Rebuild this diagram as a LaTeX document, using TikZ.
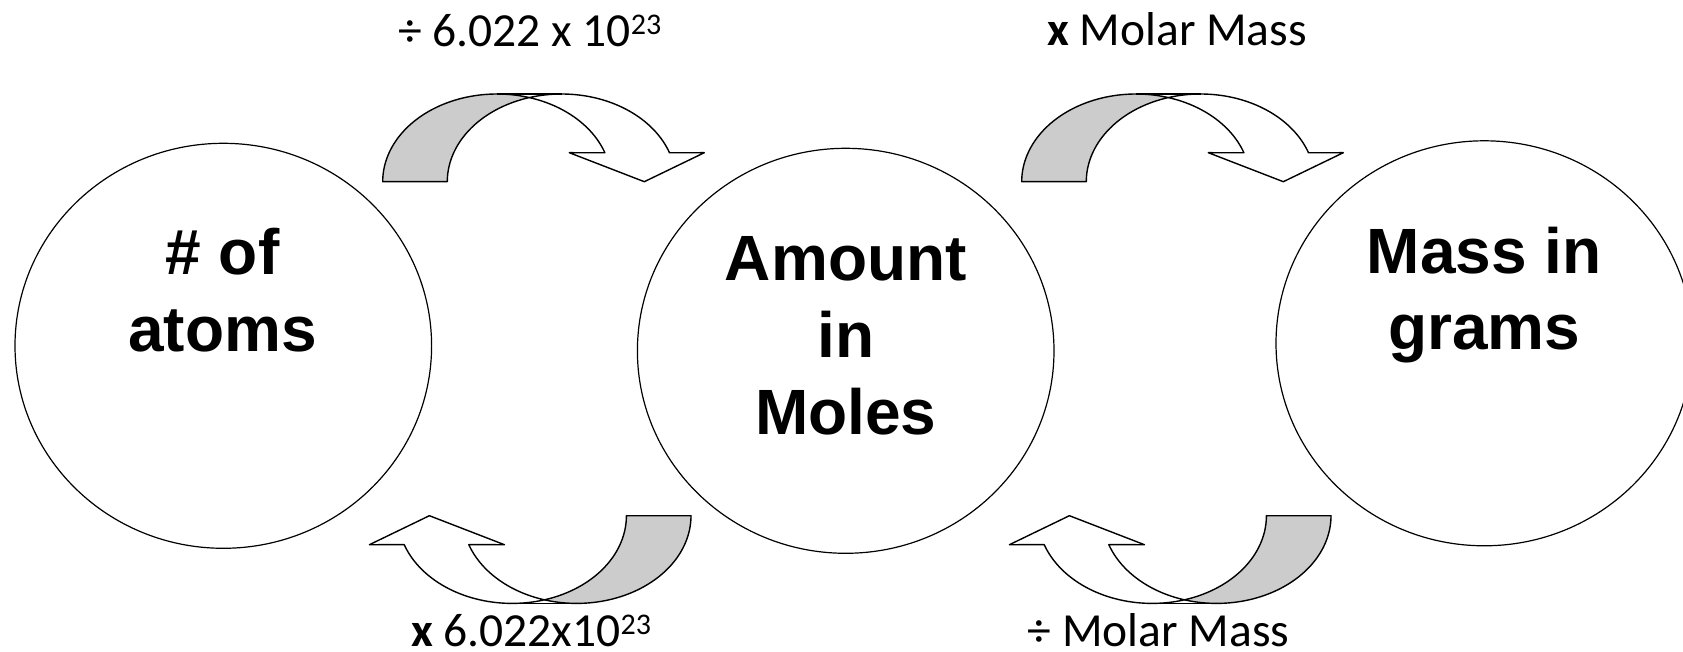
\documentclass[tikz,border=0pt]{standalone}
\usepackage{fontspec}
\setmainfont{Carlito}
\newfontfamily\arialfont{Liberation Sans}
\usetikzlibrary{shapes.geometric}
\definecolor{shadegray}{RGB}{204,204,204}
\tikzset{
  circ/.style={draw=black, line width=1.2pt, ellipse, inner sep=0pt, minimum width=416.6pt, minimum height=405pt},
  bigtext/.style={anchor=base, inner sep=0pt, font=\arialfont\bfseries\fontsize{64}{77}\selectfont},
  optext/.style={anchor=base, inner sep=0pt, font=\fontsize{47.5}{55}\selectfont},
  arrowline/.style={draw=black, line width=1.4pt, line join=round},
  carrow/.pic={
    \filldraw[arrowline, fill=shadegray]
      plot[domain=180:73.6, samples=60, variable=\t] ({114.3+114.3*cos(\t)},{87.7*sin(\t)})
      -- plot[domain=106.4:180, samples=60, variable=\t] ({178.9+114.3*cos(\t)},{87.7*sin(\t)})
      -- cycle;
    \filldraw[arrowline, fill=white]
      plot[domain=106.4:19.3, samples=60, variable=\t] ({178.9+114.3*cos(\t)},{87.7*sin(\t)})
      -- (321.6,29) -- (261.6,0) -- (186.6,29)
      -- plot[domain=19.3:73.6, samples=60, variable=\t] ({114.3+114.3*cos(\t)},{87.7*sin(\t)})
      -- cycle;
    \draw[arrowline] (114.3,87.7) -- (178.9,87.7);
  }
}
\newcommand{\supr}[1]{\raisebox{12pt}{\fontsize{30}{30}\selectfont #1}}
\begin{document}
\begin{tikzpicture}[x=1pt, y=-1pt]
\useasboundingbox (0,0) rectangle (1683,652);
\clip (0,0) rectangle (1683,652);
\fill[white] (0,0) rectangle (1683,652);

% circles
\node[circ] (atoms) at (223.3,345.8) {};
\node[circ] (moles) at (845.7,350.8) {};
\node[circ] (grams) at (1484.3,343.3) {};

% circle texts
\node[bigtext] (atomsA) at (222.5,275) {\# of};
\node[bigtext] (atomsB) at (222.5,351.7) {atoms};
\node[bigtext] (molesA) at (845.8,280) {Amount};
\node[bigtext] (molesB) at (845.8,357.7) {in};
\node[bigtext] (molesC) at (845.8,434.3) {Moles};
\node[bigtext] (gramsA) at (1484.2,273.3) {Mass in};
\node[bigtext] (gramsB) at (1484.2,349.3) {grams};

% curved arrows
\pic[yscale=-1] at (382.7,181.7) {carrow};
\pic[yscale=-1] at (1021.7,181.7) {carrow};
\pic[xscale=-1] at (691,515.7) {carrow};
\pic[xscale=-1] at (1331,515.7) {carrow};

% operation labels
\node[optext] (op1) at (529.7,47) {÷ 6.022 x 10\supr{23}};
\node[optext] (op2) at (1177,46) {{\bfseries x} Molar Mass};
\node[optext] (op3) at (531,646) {{\bfseries x} 6.022x10\supr{23}};
\node[optext] (op4) at (1158.5,646) {÷ Molar Mass};
\end{tikzpicture}
\end{document}
